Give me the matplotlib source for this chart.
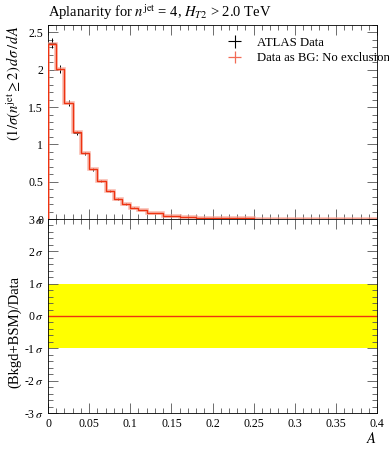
import numpy as np
import matplotlib
matplotlib.use("Agg")
import matplotlib.pyplot as plt
from matplotlib.ticker import MultipleLocator

plt.rcParams['font.family'] = ['Liberation Serif', 'DejaVu Serif']
plt.rcParams['mathtext.fontset'] = 'stix'

# Data
bin_edges = [0.0, 0.01, 0.02, 0.03, 0.04, 0.05, 0.06, 0.07, 0.08, 0.09, 0.10, 0.11, 0.12,
             0.14, 0.16, 0.18, 0.20, 0.25, 0.30, 0.40]
data_vals = [2.36, 2.01, 1.55, 1.15, 0.88, 0.67, 0.51, 0.375, 0.27, 0.20, 0.15, 0.12,
             0.08, 0.045, 0.025, 0.015, 0.008, 0.004, 0.002]
data_errs = [0.07, 0.05, 0.04, 0.03, 0.02, 0.02, 0.015, 0.01, 0.01, 0.008, 0.006, 0.005,
             0.004, 0.003, 0.002, 0.002, 0.001, 0.001, 0.001]
bg_vals = [2.34, 2.01, 1.55, 1.16, 0.88, 0.67, 0.51, 0.38, 0.27, 0.20, 0.15, 0.12,
           0.08, 0.045, 0.025, 0.015, 0.008, 0.004, 0.002]
sigma_ticks = [-3, -2, -1, 0, 1, 2, 3]
sigma_labels = ['-3$\\,\\sigma$', '-2$\\,\\sigma$', '-1$\\,\\sigma$', '0$\\,\\sigma$',
                '1$\\,\\sigma$', '2$\\,\\sigma$', '3$\\,\\sigma$']
x_ticks = [0, 0.05, 0.1, 0.15, 0.2, 0.25, 0.3, 0.35, 0.4]
x_labels = ['0', '0.05', '0.1', '0.15', '0.2', '0.25', '0.3', '0.35', '0.4']

edges = np.array(bin_edges)
centers = 0.5 * (edges[:-1] + edges[1:])
halfw = 0.5 * (edges[1:] - edges[:-1])

fig = plt.figure(figsize=(3.89, 4.5), dpi=100)
ax1 = fig.add_axes([48/389, 1-219/450, (377-48)/389, (219-25)/450])
ax2 = fig.add_axes([48/389, 1-413/450, (377-48)/389, (413-219)/450], sharex=ax1)

red = '#ee3311'
# upper
ax1.errorbar(centers, data_vals, xerr=halfw, yerr=data_errs, fmt='none',
             ecolor='black', elinewidth=0.7, zorder=2)
ax1.stairs(bg_vals, edges, color='#f7a090', lw=2.6, alpha=0.7, zorder=3)
ax1.stairs(bg_vals, edges, color=red, lw=1.0, zorder=4)
ax1.set_xlim(0, 0.4)
ax1.set_ylim(0, 2.6)
ax1.set_yticks([0, 0.5, 1, 1.5, 2, 2.5])
ax1.set_yticklabels(['0', '0.5', '1', '1.5', '2', '2.5'])
ax1.yaxis.set_minor_locator(MultipleLocator(0.1))
ax1.xaxis.set_minor_locator(MultipleLocator(0.01))
ax1.set_ylabel('$(1/\\sigma(n^{\\mathrm{jet}} \\geq 2)\\, d\\sigma\\, /\\, dA$',
               fontsize=10.5, loc='top')
ax1.tick_params(labelbottom=False)

# legend
h1 = ax1.errorbar([], [], xerr=[], yerr=[], fmt='none', ecolor='black', elinewidth=0.8)
h2 = ax1.errorbar([], [], xerr=[], yerr=[], fmt='none', ecolor='#f26a55', elinewidth=0.9)
ax1.legend([h1, h2], ['ATLAS Data', 'Data as BG: No exclusion'], loc='upper left',
           bbox_to_anchor=(0.525, 0.94), frameon=False, fontsize=9.2, handlelength=2.2,
           handletextpad=0.6, labelspacing=0.3, borderaxespad=0, borderpad=0)

fig.text(48/389, 1-12/450, 'Aplanarity for $n^{\\mathrm{jet}}$ = 4, $H_{T2}$ > 2.0 TeV',
         fontsize=10.5, va='center', ha='left')

# lower
ax2.axhspan(-1, 1, color='#ffff00', lw=0)
ax2.axhline(0, color=red, lw=1.0)
ax2.set_ylim(-3, 3)
ax2.set_yticks(sigma_ticks)
ax2.set_yticklabels(sigma_labels)
ax2.yaxis.set_minor_locator(MultipleLocator(0.2))
ax2.set_xticks(x_ticks)
ax2.set_xticklabels(x_labels)
ax2.xaxis.set_minor_locator(MultipleLocator(0.01))
ax2.set_ylabel('(Bkgd+BSM)/Data', fontsize=10.5)
ax2.set_xlabel('$A$', fontsize=10.5, loc='right', labelpad=1)

for ax in (ax1, ax2):
    ax.tick_params(which='both', direction='in', top=True, right=True, labelsize=8.5)
    ax.tick_params(which='major', length=7, width=0.6, color='#555555')
    ax.tick_params(which='minor', length=3.5, width=0.6, color='#555555')
    for s in ax.spines.values():
        s.set_linewidth(0.6)

ax1.yaxis.set_label_coords(-0.075, 1.0)
ax2.yaxis.set_label_coords(-0.082, 0.42)

fig.savefig('out.png', dpi=100)
